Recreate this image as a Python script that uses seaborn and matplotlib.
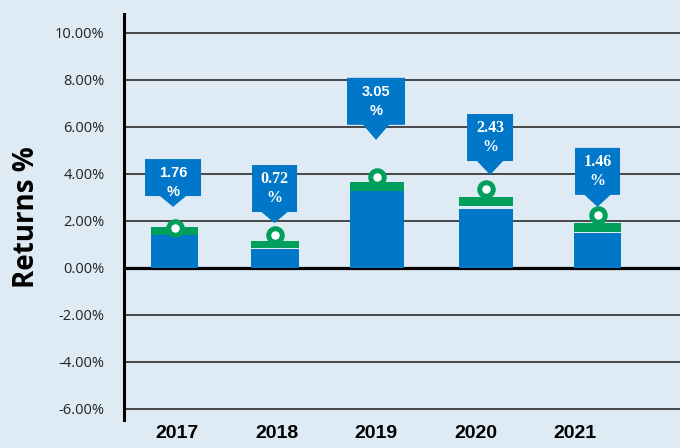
import matplotlib
matplotlib.use("Agg")
import matplotlib.pyplot as plt
from matplotlib.patches import Polygon
import seaborn as sns
import pandas as pd
import numpy as np

# ---- data ----
years = ["2017", "2018", "2019", "2020", "2021"]
returns_label = [1.76, 0.72, 3.05, 2.43, 1.46]
bar_top = [1.40, 0.81, 3.28, 2.51, 1.49]
cap_low = [1.40, 0.85, 3.28, 2.64, 1.53]
cap_high = [1.74, 1.15, 3.66, 3.02, 1.91]
marker_y = [1.70, 1.40, 3.87, 3.36, 2.26]
y_ticks = [-6, -4, -2, 0, 2, 4, 6, 8, 10]

# ---- layout (not data) ----
bar_shift = [-0.025, -0.015, 0.01, 0.105, 0.226]
bar_width = [0.47, 0.49, 0.54, 0.54, 0.47]
box_shift = [-0.04, -0.02, 0.0, 0.146, 0.226]
box_bottom = [3.06, 2.38, 6.09, 4.55, 3.11]
box_tip = [2.60, 1.91, 5.45, 3.96, 2.60]
box_h_px = [37, 47, 47, 47, 47]
box_w_px = [56, 45, 58, 46, 45]
label_family = ["Liberation Sans", "Liberation Serif", "Liberation Sans",
                "Liberation Serif", "Liberation Serif"]

BG = "#deebf4"
BLUE = "#0077c8"
GREEN = "#00a05c"

sns.set_style("white", {"axes.facecolor": BG, "figure.facecolor": BG})
plt.rcParams["font.family"] = ["Open Sans", "DejaVu Sans"]

fig = plt.figure(figsize=(6.8, 4.48), dpi=100)
ax = fig.add_axes([124 / 680, 28 / 448, 556 / 680, 406 / 448])
ax.set_facecolor(BG)

X_PX = 99.5   # pixels per category unit
Y_PX = 23.5   # pixels per 1 %

df = pd.DataFrame({"year": years, "top": bar_top})
sns.barplot(data=df, x="year", y="top", color=BLUE, width=0.5,
            saturation=1, ax=ax, zorder=3, linewidth=0)

pos = np.arange(len(years))
for p, i in zip(ax.patches, range(len(years))):
    c = pos[i] + bar_shift[i]
    p.set_x(c - bar_width[i] / 2)
    p.set_width(bar_width[i])

centers = pos + np.array(bar_shift)
ax.bar(centers, np.array(cap_high) - np.array(cap_low), bottom=cap_low,
       width=bar_width, color=GREEN, linewidth=0, zorder=4)

ax.scatter(centers, marker_y, s=95, facecolor="white", edgecolor=GREEN,
           linewidth=3.6, zorder=5)

# callout boxes
for i in range(len(years)):
    cx = pos[i] + box_shift[i]
    w = box_w_px[i] / X_PX
    h = box_h_px[i] / Y_PX
    b = box_bottom[i]
    t = b + h
    tw = 13 / X_PX
    pts = [(cx - w / 2, t), (cx + w / 2, t), (cx + w / 2, b), (cx + tw, b),
           (cx, box_tip[i]), (cx - tw, b), (cx - w / 2, b)]
    ax.add_patch(Polygon(pts, closed=True, facecolor=BLUE, edgecolor="none",
                         zorder=6))
    fs = 10.5 if label_family[i] == "Liberation Sans" else 11.5
    ax.text(cx, t - 14 / Y_PX, f"{returns_label[i]:.2f}", ha="center",
            va="center", color="white", fontweight="bold", fontsize=fs,
            family=label_family[i], zorder=7)
    ax.text(cx, t - 33 / Y_PX, "%", ha="center", va="center", color="white",
            fontweight="bold", fontsize=fs, family=label_family[i], zorder=7)

# axes styling
ax.set_xlim(-0.533, -0.533 + 556 / X_PX)
ax.set_ylim(-6.47, -6.47 + 406 / Y_PX)
ax.set_yticks(y_ticks)
ax.set_yticklabels([f"{v:.2f}%" for v in y_ticks], fontsize=10.5,
                   color="#222222")
for v in y_ticks:
    if v == 0:
        ax.axhline(v, color="black", linewidth=2.3, zorder=2)
    else:
        ax.axhline(v, color="#2a2a2a", linewidth=1.2, zorder=2)

ax.set_xticks(pos)
ax.set_xticklabels(years, fontsize=14, fontweight="bold",
                   family="Liberation Sans", color="black")
ax.tick_params(axis="x", length=0, pad=3.5)
ax.tick_params(axis="y", length=0, pad=14)
ax.set_xlabel("")
ax.set_ylabel("Returns %", fontsize=20, fontweight="bold", color="black",
              labelpad=10)
for s in ["top", "right", "bottom"]:
    ax.spines[s].set_visible(False)
ax.spines["left"].set_color("black")
ax.spines["left"].set_linewidth(2.2)
ax.grid(False)

fig.savefig("out.png", dpi=100, facecolor=BG)
